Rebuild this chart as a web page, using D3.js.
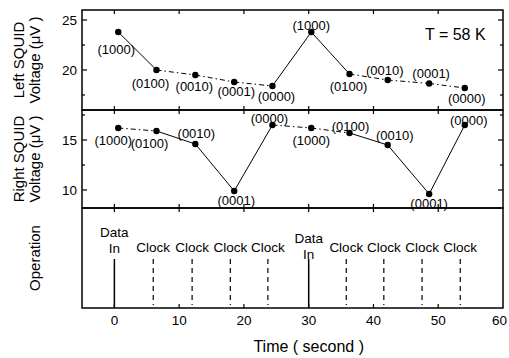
<!DOCTYPE html>
<html>
<head>
<meta charset="utf-8">
<script src="https://cdn.jsdelivr.net/npm/d3@7"></script>
<style>
  body { margin: 0; background: #fff; }
  text { font-family: "Liberation Sans", Arial, sans-serif; fill: #000; }
</style>
</head>
<body>
<div id="chart"></div>
<script>
const times = [0.6, 6.5, 12.5, 18.5, 24.4, 30.4, 36.3, 42.2, 48.6, 54.1];
const states = ["1000", "0100", "0010", "0001", "0000", "1000", "0100", "0010", "0001", "0000"];
const leftVolts = [23.8, 20.0, 19.5, 18.8, 18.4, 23.8, 19.6, 19.0, 18.65, 18.2];
const rightVolts = [16.2, 15.9, 14.6, 9.9, 16.5, 16.2, 15.7, 14.5, 9.6, 16.5];
// segment i joins point i and i+1
const leftSegStyle = ["solid", "dashdot", "dashdot", "dashdot", "solid", "solid", "dashdot", "dashdot", "dashdot"];
const rightSegStyle = ["dashdot", "solid", "solid", "solid", "dashdot", "dashdot", "solid", "solid", "solid"];
const dataInTimes = [0, 30];
const clockTimes = [6, 12, 17.9, 23.7, 35.8, 41.6, 47.5, 53.4];
const xTicks = [0, 10, 20, 30, 40, 50, 60];

// label offsets (px) from each point
const leftLabelOff = [[-2, 17], [-6, 13], [-1, 11], [2, 9], [4, 10], [0, -7], [-1, 12], [-3, -10], [2, -10], [2, 10]];
const rightLabelOff = [[-5, 12], [-7, 12], [1, -11], [2, 9], [-3, -7], [0, 12], [1, -7], [7, -10], [0, 9], [4, -5]];

const W = 509, H = 358;
const left = 82, right = 503;
const fs = 13.5;
const panels = [
  { top: 10, bottom: 110, domain: [16, 26], major: [20, 25], minor: [17.5, 22.5], vals: leftVolts, seg: leftSegStyle, off: leftLabelOff, label: ["Left SQUID", "Voltage (\u03bcV )"] },
  { top: 110, bottom: 208, domain: [8.2, 18], major: [10, 15], minor: [12.5, 17.5], vals: rightVolts, seg: rightSegStyle, off: rightLabelOff, label: ["Right SQUID", "Voltage (\u03bcV )"] }
];
const opTop = 208, opBottom = 308;

const svg = d3.select("#chart").append("svg")
  .attr("width", W).attr("height", H);

const x = d3.scaleLinear().domain([-5, 60]).range([left, right]);

const dashFor = s => s === "dashdot" ? "5,3,1.5,3" : null;

// x ticks (inward) on top and bottom of every panel
function xTickMarks(yEdge, dir) {
  svg.append("g").selectAll("line").data(xTicks.slice(0, -1)).join("line")
    .attr("x1", d => x(d)).attr("x2", d => x(d))
    .attr("y1", yEdge).attr("y2", yEdge + dir * 4)
    .attr("stroke", "#000").attr("stroke-width", 1.2);
}

panels.forEach(p => {
  const y = d3.scaleLinear().domain(p.domain).range([p.bottom, p.top]);
  const g = svg.append("g");

  // y ticks left/right, inward
  const ticks = p.major.map(v => ({ v, len: 5 })).concat(p.minor.map(v => ({ v, len: 3 })));
  [[left, 1], [right, -1]].forEach(([xe, dir]) => {
    g.append("g").selectAll("line").data(ticks).join("line")
      .attr("x1", xe).attr("x2", d => xe + dir * d.len)
      .attr("y1", d => y(d.v)).attr("y2", d => y(d.v))
      .attr("stroke", "#000").attr("stroke-width", 1.2);
  });
  g.append("g").selectAll("text").data(p.major).join("text")
    .attr("x", left - 5).attr("y", d => y(d))
    .attr("text-anchor", "end").attr("dominant-baseline", "central")
    .attr("font-size", fs).text(d => d);

  xTickMarks(p.top, 1);
  xTickMarks(p.bottom, -1);

  // segments
  const segs = d3.range(times.length - 1).map(i => ({ i, style: p.seg[i] }));
  g.append("g").selectAll("line").data(segs).join("line")
    .attr("x1", d => x(times[d.i])).attr("y1", d => y(p.vals[d.i]))
    .attr("x2", d => x(times[d.i + 1])).attr("y2", d => y(p.vals[d.i + 1]))
    .attr("stroke", "#000").attr("stroke-width", 1)
    .attr("stroke-dasharray", d => dashFor(d.style));

  // points
  g.append("g").selectAll("circle").data(times).join("circle")
    .attr("cx", d => x(d)).attr("cy", (d, i) => y(p.vals[i]))
    .attr("r", 3.2).attr("fill", "#000");

  // state labels
  g.append("g").selectAll("text").data(states).join("text")
    .attr("x", (d, i) => x(times[i]) + p.off[i][0])
    .attr("y", (d, i) => y(p.vals[i]) + p.off[i][1])
    .attr("text-anchor", "middle").attr("dominant-baseline", "central")
    .attr("font-size", 13).text(d => "(" + d + ")");

  // y title (two lines)
  const cy = (p.top + p.bottom) / 2;
  p.label.forEach((t, k) => {
    g.append("text")
      .attr("transform", `translate(${18 + k * 16},${cy}) rotate(-90)`)
      .attr("text-anchor", "middle").attr("dominant-baseline", "central")
      .attr("font-size", 15).text(t);
  });

  g.append("rect")
    .attr("x", left).attr("y", p.top)
    .attr("width", right - left).attr("height", p.bottom - p.top)
    .attr("fill", "none").attr("stroke", "#000").attr("stroke-width", 1.5);
});

svg.append("text").attr("x", 425).attr("y", 34)
  .attr("dominant-baseline", "central").attr("font-size", 16).text("T = 58 K");

// operation panel
xTickMarks(opTop, 1);
xTickMarks(opBottom, -1);

const op = svg.append("g");
op.selectAll("line.data").data(dataInTimes).join("line")
  .attr("class", "data")
  .attr("x1", d => x(d)).attr("x2", d => x(d))
  .attr("y1", 259).attr("y2", opBottom)
  .attr("stroke", "#000").attr("stroke-width", 1.5);
op.selectAll("line.clk").data(clockTimes).join("line")
  .attr("class", "clk")
  .attr("x1", d => x(d)).attr("x2", d => x(d))
  .attr("y1", 259).attr("y2", 305)
  .attr("stroke", "#000").attr("stroke-width", 1.2)
  .attr("stroke-dasharray", "5,4");

dataInTimes.forEach((t, k) => {
  const base = k === 0 ? 232 : 238;
  op.append("text").attr("x", x(t)).attr("y", base)
    .attr("text-anchor", "middle").attr("dominant-baseline", "central")
    .attr("font-size", fs).text("Data");
  op.append("text").attr("x", x(t)).attr("y", base + 16)
    .attr("text-anchor", "middle").attr("dominant-baseline", "central")
    .attr("font-size", fs).text("In");
});
op.selectAll("text.clk").data(clockTimes).join("text")
  .attr("class", "clk")
  .attr("x", d => x(d)).attr("y", 247)
  .attr("text-anchor", "middle").attr("dominant-baseline", "central")
  .attr("font-size", fs).text("Clock");

op.append("rect")
  .attr("x", left).attr("y", opTop)
  .attr("width", right - left).attr("height", opBottom - opTop)
  .attr("fill", "none").attr("stroke", "#000").attr("stroke-width", 1.5);

svg.append("text")
  .attr("transform", `translate(34,${(opTop + opBottom) / 2}) rotate(-90)`)
  .attr("text-anchor", "middle").attr("dominant-baseline", "central")
  .attr("font-size", 15).text("Operation");

// x axis labels (last one kept inside the page edge)
svg.append("g").selectAll("text").data(xTicks).join("text")
  .attr("x", (d, i) => i === xTicks.length - 1 ? W - 2 : x(d))
  .attr("y", 320)
  .attr("text-anchor", (d, i) => i === xTicks.length - 1 ? "end" : "middle")
  .attr("dominant-baseline", "central")
  .attr("font-size", fs).text(d => d);

svg.append("text").attr("x", x(30)).attr("y", 346)
  .attr("text-anchor", "middle").attr("dominant-baseline", "central")
  .attr("font-size", 16).text("Time ( second )");
</script>
</body>
</html>
